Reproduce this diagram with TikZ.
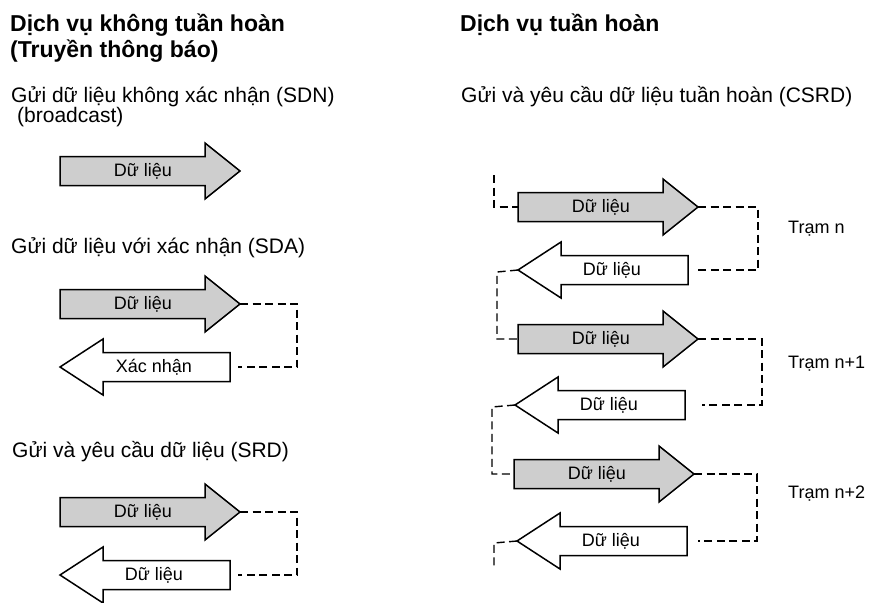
\documentclass[tikz,border=0pt]{standalone}
\usepackage{fontspec}
\setmainfont{Liberation Sans}
\definecolor{arrowgray}{RGB}{206,206,206}
\tikzset{
  arrowline/.style={draw=black, line width=1.5pt, line join=miter},
  dashline/.style={draw=black, line width=1.4pt, dash pattern=on 8pt off 4.5pt},
  lbl/.style={inner sep=0pt, font=\fontsize{18}{21}\selectfont},
  body/.style={inner sep=0pt, anchor=base west, font=\fontsize{21}{25}\selectfont},
  ttl/.style={inner sep=0pt, anchor=base west, font=\fontsize{23}{27}\selectfont\bfseries},
  stn/.style={inner sep=0pt, anchor=base west, font=\fontsize{18}{21}\selectfont}
}
% right arrow: name, left x, centre y, label
\newcommand\rarr[4]{%
  \draw[arrowline, fill=arrowgray] (#2,#3-14.5) -- (#2+145,#3-14.5) -- (#2+145,#3-28)
     -- (#2+180,#3) -- (#2+145,#3+28) -- (#2+145,#3+14.5) -- (#2,#3+14.5) -- cycle;
  \coordinate (#1-tail) at (#2,#3);
  \coordinate (#1-tip) at (#2+180,#3);
  \node[lbl] (#1-lbl) at (#2+83,#3) {#4};
}
% left arrow: name, tip x, centre y, right x, label
\newcommand\larr[5]{%
  \draw[arrowline, fill=white] (#2,#3) -- (#2+43,#3-28) -- (#2+43,#3-14.5) -- (#4,#3-14.5)
     -- (#4,#3+14.5) -- (#2+43,#3+14.5) -- (#2+43,#3+28) -- cycle;
  \coordinate (#1-tip) at (#2,#3);
  \coordinate (#1-tail) at (#4,#3);
  \node[lbl] (#1-lbl) at (#2+94,#3) {#5};
}
\begin{document}
\begin{tikzpicture}[x=1pt,y=-1pt]
\fill[white] (0,0) rectangle (869,602);
\useasboundingbox (0,0) rectangle (869,602);

% ---- titles and captions
\node[ttl] (t1) at (10,32) {Dịch vụ không tuần hoàn};
\node[ttl] (t2) at (10,57) {(Truyền thông báo)};
\node[ttl] (t3) at (460,32) {Dịch vụ tuần hoàn};
\node[body] (s1) at (11,102) {Gửi dữ liệu không xác nhận (SDN)};
\node[body] (s1b) at (17,122) {(broadcast)};
\node[body] (s2) at (11,253) {Gửi dữ liệu với xác nhận (SDA)};
\node[body] (s3) at (12,457) {Gửi và yêu cầu dữ liệu (SRD)};
\node[body] (s4) at (461,102) {Gửi và yêu cầu dữ liệu tuần hoàn (CSRD)};
\node[stn] (tn) at (788,233) {Trạm n};
\node[stn] (tn1) at (788,368) {Trạm n+1};
\node[stn] (tn2) at (788,498) {Trạm n+2};

% ---- left column
\rarr{R1}{60}{171}{Dữ liệu}
\rarr{R2}{60}{304}{Dữ liệu}
\larr{L2}{60}{367}{230}{Xác nhận}
\rarr{R3}{60}{512}{Dữ liệu}
\larr{L3}{60}{575}{230}{Dữ liệu}
\draw[dashline] (R2-tip) -- ++(57,0) |- ([xshift=8pt]L2-tail);
\draw[dashline] (R3-tip) -- ++(57,0) |- ([xshift=8pt]L3-tail);

% ---- right column
\rarr{RA}{518}{207}{Dữ liệu}
\larr{LA}{518}{270}{688}{Dữ liệu}
\rarr{RB}{518}{339}{Dữ liệu}
\larr{LB}{515}{405}{685}{Dữ liệu}
\rarr{RC}{514}{474}{Dữ liệu}
\larr{LC}{517}{541}{687}{Dữ liệu}

\draw[dashline] (RA-tip) -- ++(60,0) |- ([xshift=10pt]LA-tail);
\draw[dashline] (RB-tip) -- ++(64,0) |- ([xshift=17pt]LB-tail);
\draw[dashline] (RC-tip) -- ++(63,0) |- ([xshift=11pt]LC-tail);

\coordinate (topin) at (494,175);
\coordinate (botout) at (494,568);
\draw[dashline] (topin) |- (RA-tail);
\draw[dashline] (LA-tip) -- ++(-21,2) |- (RB-tail);
\draw[dashline] (LB-tip) -- ++(-23,2) |- (RC-tail);
\draw[dashline] (LC-tip) -- ++(-23,2) -- (botout);
\end{tikzpicture}
\end{document}
